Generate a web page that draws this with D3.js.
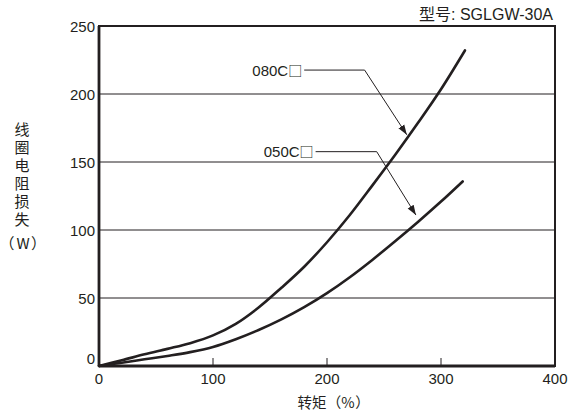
<!DOCTYPE html>
<html><head><meta charset="utf-8">
<script src="https://cdn.jsdelivr.net/npm/d3@7"></script>
<style>
html,body{margin:0;padding:0;background:#fff;}
text{font-family:"Liberation Sans",Arial,"Noto Sans CJK SC",sans-serif;fill:#231f20;}
.cjk{font-family:"Noto Sans CJK SC",sans-serif;text-spacing-trim:space-all;font-feature-settings:"halt" 0,"chws" 0;}
</style></head>
<body>
<svg id="chart" width="568" height="412"></svg>
<script>
// Data
const torque080 = [0, 20, 40, 60, 80, 100, 120, 140, 160, 180, 200, 220, 240, 260, 280, 300, 321];
const loss080   = [0, 4.2, 8.6, 12.6, 16.8, 22.5, 31, 43, 57.5, 73, 91, 111, 133, 155.5, 179, 203.5, 232];
const torque050 = [0, 20, 40, 60, 80, 100, 120, 140, 160, 180, 200, 220, 240, 260, 280, 300, 319];
const loss050   = [0, 2.4, 4.9, 7.4, 10.2, 14, 19.7, 26.5, 34.3, 43.3, 53.6, 65.3, 78.2, 91.9, 106.1, 120.9, 135.7];
const xTicks = [0, 100, 200, 300, 400];
const yTicks = [0, 50, 100, 150, 200, 250];
const seriesNames = ["080C", "050C"];
const boxMark = "□";
// annotation anchors in data units: [labelEndX, labelY, elbowX, tipX, tipY]
const ann080 = [180, 217.6, 233, 270, 170];
const ann050 = [190, 157.6, 243.6, 278, 111];
const title = "型号: SGLGW-30A";
const yTitle = "线圈电阻损失";
const yUnit = ["（", "W", "）"];
const xTitleMain = "转矩";
const xTitleUnit = ["（", "%", "）"];

const svg = d3.select("#chart");
const x = d3.scaleLinear().domain([0, 400]).range([99, 555]);
const y = d3.scaleLinear().domain([0, 250]).range([366, 26]);
const ink = "#231f20";

// gridlines
svg.append("g").selectAll("line").data(yTicks.filter(d => d > 0 && d < 250)).join("line")
  .attr("x1", x(0)).attr("x2", x(400)).attr("y1", d => y(d)).attr("y2", d => y(d))
  .attr("stroke", ink).attr("stroke-width", 1);

// x ticks (inward)
svg.append("g").selectAll("line").data(xTicks.filter(d => d > 0 && d < 400)).join("line")
  .attr("x1", d => x(d)).attr("x2", d => x(d)).attr("y1", y(0)).attr("y2", y(0) - 8)
  .attr("stroke", ink).attr("stroke-width", 1);

// frame
svg.append("rect").attr("x", x(0)).attr("y", y(250)).attr("width", x(400) - x(0)).attr("height", y(0) - y(250))
  .attr("fill", "none").attr("stroke", ink).attr("stroke-width", 2);
svg.append("line").attr("x1", x(0)).attr("x2", x(0)).attr("y1", y(250)).attr("y2", y(0))
  .attr("stroke", ink).attr("stroke-width", 2.8);
svg.append("line").attr("x1", x(0)).attr("x2", x(400)).attr("y1", y(0)).attr("y2", y(0))
  .attr("stroke", ink).attr("stroke-width", 2.8);

// tick labels
svg.append("g").selectAll("text").data(xTicks).join("text")
  .attr("x", d => x(d)).attr("y", 384).attr("text-anchor", "middle")
  .attr("font-size", 15).text(d => d);
svg.append("g").selectAll("text").data(yTicks).join("text")
  .attr("x", 95).attr("y", d => y(d) + (d === 0 ? -2 : 6)).attr("text-anchor", "end")
  .attr("font-size", 15).text(d => d);

// curves
const line = d3.line().x(d => x(d[0])).y(d => y(d[1])).curve(d3.curveCatmullRom.alpha(0.5));
[[torque080, loss080], [torque050, loss050]].forEach(([tx, ly]) => {
  svg.append("path").datum(tx.map((t, i) => [t, ly[i]]))
    .attr("d", line).attr("fill", "none").attr("stroke", ink).attr("stroke-width", 2.6)
    .attr("stroke-linecap", "round");
});

// arrow marker
svg.append("defs").append("marker").attr("id", "arr").attr("viewBox", "0 0 10 10")
  .attr("refX", 10).attr("refY", 5).attr("markerWidth", 10).attr("markerHeight", 10)
  .attr("markerUnits", "userSpaceOnUse").attr("orient", "auto")
  .append("path").attr("d", "M0,1.5 L10,5 L0,8.5 Z").attr("fill", ink);

// annotations
[[ann080, seriesNames[0]], [ann050, seriesNames[1]]].forEach(([a, name]) => {
  const t = svg.append("text").attr("x", x(a[0]) - 2).attr("y", y(a[1]) + 5.5).attr("text-anchor", "end")
    .attr("font-size", 15);
  t.append("tspan").text(name);
  t.append("tspan").attr("font-family", "Noto Sans CJK SC").attr("font-size", 14).text(boxMark);
  svg.append("path")
    .attr("d", `M${x(a[0])},${y(a[1])} L${x(a[2])},${y(a[1])} L${x(a[3])},${y(a[4])}`)
    .attr("fill", "none").attr("stroke", ink).attr("stroke-width", 1)
    .attr("marker-end", "url(#arr)");
});

// title
svg.append("text").attr("x", 553).attr("y", 20).attr("text-anchor", "end")
  .attr("font-size", 16).text(title);

// y title (vertical)
svg.append("text").attr("class", "cjk").attr("x", 22).attr("y", 122)
  .attr("font-size", 15).style("writing-mode", "vertical-rl").style("letter-spacing", "3px")
  .text(yTitle);
const yu = svg.append("text").attr("class", "cjk").attr("y", 248.5).attr("font-size", 15).attr("text-anchor", "middle");
yu.append("tspan").attr("x", 7).text(yUnit[0]);
yu.append("tspan").attr("x", 23).text(yUnit[1]);
yu.append("tspan").attr("x", 38.5).text(yUnit[2]);

// x title
const xt = svg.append("text").attr("class", "cjk").attr("y", 407.5).attr("font-size", 14.5).attr("text-anchor", "middle");
xt.append("tspan").attr("x", 312).text(xTitleMain);
xt.append("tspan").attr("x", 334).text(xTitleUnit[0]);
xt.append("tspan").attr("x", 348).text(xTitleUnit[1]);
xt.append("tspan").attr("x", 362.5).text(xTitleUnit[2]);
</script>
</body></html>
